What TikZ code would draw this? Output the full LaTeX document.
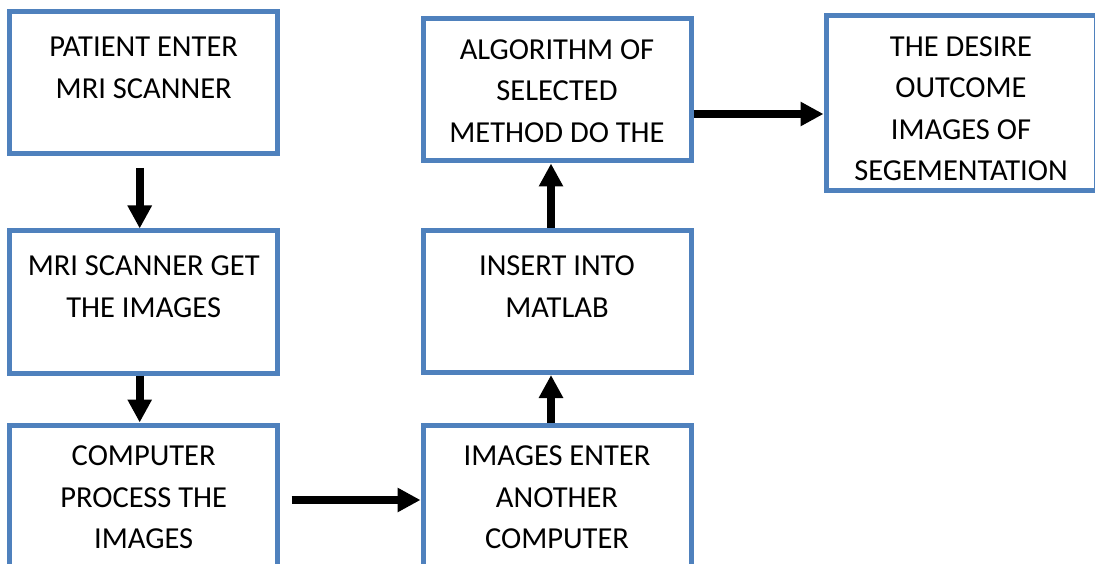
\documentclass[tikz,border=0pt]{standalone}
\usepackage{fontspec}
\setmainfont{Carlito}
\usepackage{xcolor}
\usetikzlibrary{arrows.meta}
\definecolor{boxblue}{HTML}{4F81BD}
\tikzstyle{stage}+=[draw=boxblue,line width=5pt,fill=white,text width=250pt,align=flush center,inner xsep=0pt,inner ysep=0pt,minimum width=268pt,text height=40.5pt,text depth=101.5pt,font=\fontsize{30.5}{41.5}\selectfont]
\tikzstyle{lowtext}+=[text height=45pt,text depth=97pt]
\tikzstyle{tall}+=[minimum width=270pt,text depth=134.5pt]
\tikzstyle{flow}+=[line width=8pt,-{Triangle[length=23pt,width=23pt]}]

\begin{document}
\begin{tikzpicture}[x=1pt,y=-1pt]
    \useasboundingbox (0,0) rectangle (1095,564);
    \node[stage,lowtext] (patient) at (143.7,83) {PATIENT ENTER\\MRI SCANNER};
    \node[stage,lowtext] (scanner) at (143.7,302) {MRI SCANNER GET\\THE IMAGES};
    \node[stage] (computer) at (143.7,496) {COMPUTER\\PROCESS THE\\IMAGES};
    \node[stage] (another) at (557,496) {IMAGES ENTER\\ANOTHER\\COMPUTER};
    \node[stage,lowtext] (matlab) at (557,301.5) {INSERT INTO\\MATLAB};
    \node[stage] (algorithm) at (557,90) {ALGORITHM OF\\SELECTED\\METHOD DO THE};
    \node[stage,tall] (desire) at (961,103.5) {THE DESIRE\\OUTCOME\\IMAGES OF\\SEGEMENTATION};
    \draw[flow,shorten <=11.5pt] ([xshift=-4pt]patient.south) -- ([xshift=-4pt]scanner.north);
    \draw[flow] ([xshift=-4pt]scanner.south) -- ([xshift=-4pt]computer.north);
    \draw[flow,shorten <=11.5pt] ([yshift=-4pt]computer.east) -- ([yshift=-4pt]computer.east -| another.west);
    \draw[flow] ([xshift=-6pt]another.north) -- ([xshift=-6pt]matlab.south);
    \draw[flow] ([xshift=-6pt]matlab.north) -- ([xshift=-6pt]algorithm.south);
    \draw[flow] ([yshift=-24pt]algorithm.east) -- ([yshift=-24pt]algorithm.east -| desire.west);
\end{tikzpicture}
\end{document}
